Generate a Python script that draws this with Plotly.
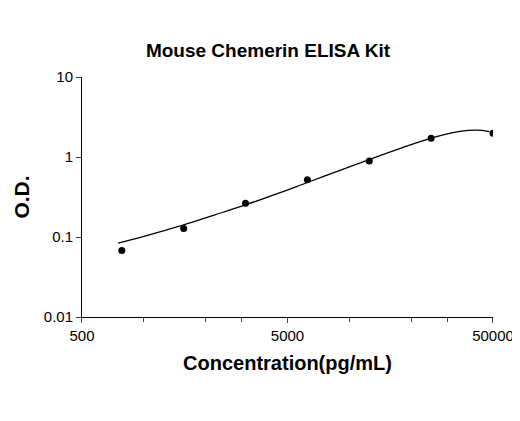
import plotly.graph_objects as go

conc = [781.25, 1562.5, 3125, 6250, 12500, 25000, 50000]
od = [0.068, 0.128, 0.265, 0.52, 0.89, 1.72, 1.98]

fit_x = [750, 1000, 1562.5, 2200, 3125, 4500, 6250, 9000, 12500, 18000, 25000, 32000, 38000, 44000, 48000]
fit_y = [0.084, 0.102, 0.142, 0.188, 0.252, 0.35, 0.48, 0.68, 0.93, 1.3, 1.72, 2.02, 2.15, 2.15, 2.07]

fig = go.Figure()
fig.add_trace(go.Scatter(x=fit_x, y=fit_y, mode='lines', line=dict(color='black', width=1.3, shape='spline'),
                         showlegend=False))
fig.add_trace(go.Scatter(x=conc, y=od, mode='markers', marker=dict(color='black', size=7),
                         showlegend=False))

fig.update_layout(
    width=520, height=421,
    margin=dict(l=74, r=35, t=69, b=112),
    paper_bgcolor='white', plot_bgcolor='white',
    font=dict(family='Liberation Sans, Arial', color='black', size=15),
    title=dict(text='<b>Mouse Chemerin ELISA Kit</b>', x=0.5, xanchor='center', y=0.9, yanchor='middle',
               font=dict(size=19)),
)
fig.update_xaxes(type='log', range=[2.699, 4.699], tickvals=[500, 5000, 50000], ticktext=['500', '5000', '50000'],
                 showline=True, linecolor='black', ticks='outside', ticklen=5, showgrid=False,
                 minor=dict(ticks='outside', ticklen=4, tickvals=[1000, 2000, 3000, 10000, 20000, 30000]),
                 title=dict(text='<b>Concentration(pg/mL)</b>', font=dict(size=20), standoff=12))
fig.update_yaxes(type='log', range=[-2, 1], tickvals=[0.01, 0.1, 1, 10], ticktext=['0.01', '0.1', '1', '10'],
                 showline=True, linecolor='black', ticks='outside', ticklen=5, showgrid=False,
                 title=dict(text='<b>O.D.</b>', font=dict(size=21), standoff=8))

fig.write_html("out.html")
